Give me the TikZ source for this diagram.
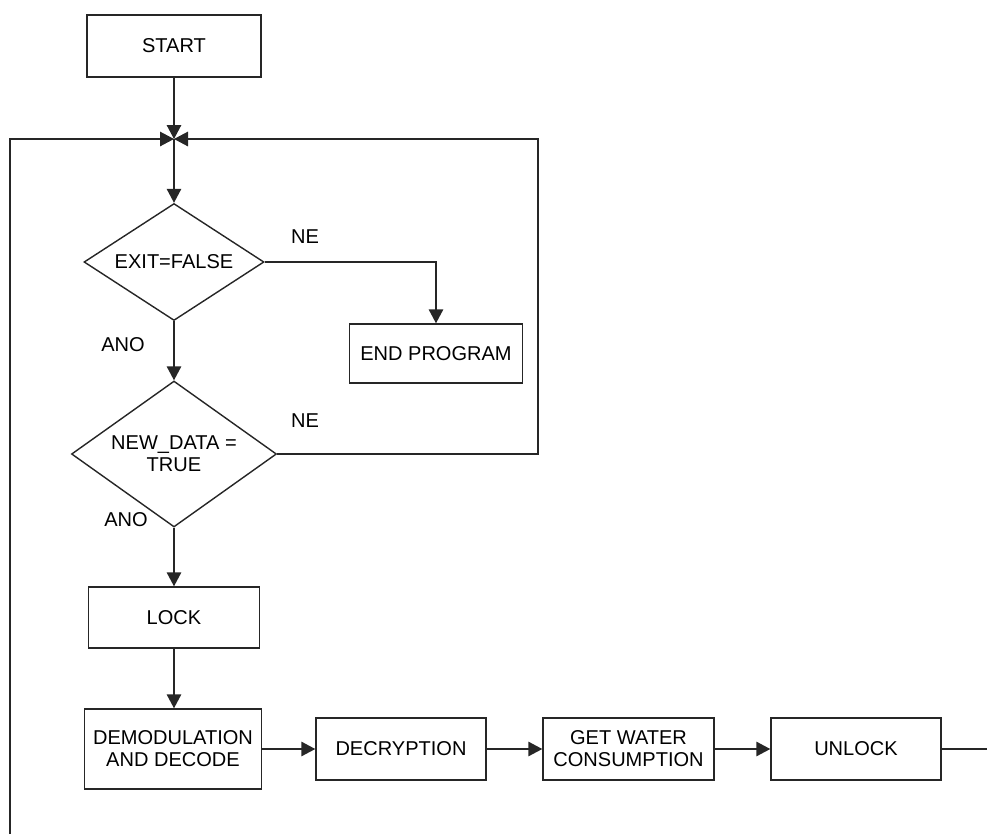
\documentclass[tikz,border=0pt]{standalone}
\usepackage{fontspec}
\setmainfont{Liberation Sans}
\usetikzlibrary{shapes.geometric,arrows.meta}

\tikzset{
    block/.style={draw=black!85, line width=0.8pt, rectangle, align=center, inner sep=0pt},
    test/.style={draw=black!85, line width=0.8pt, diamond, align=center, inner sep=0pt, shape aspect=1.5},
    line/.style={draw=black!85, line width=0.8pt},
    flow/.style={line, -{Triangle[length=0.28cm,width=0.29cm]}},
    tag/.style={inner sep=0pt}
}

\begin{document}
\begin{tikzpicture}[font=\fontsize{11.4}{12.6}\selectfont]
        \useasboundingbox (0,0) rectangle (19.74,-16.68);
        \node[block, minimum width=3.48cm, minimum height=1.24cm] (start) at (3.48,-0.92) {START};
        \coordinate (join) at (3.48,-2.78);
        \node[test, minimum width=3.6cm, minimum height=2.34cm] (exit) at (3.48,-5.24) {EXIT=FALSE};
        \node[block, minimum width=3.46cm, minimum height=1.18cm] (endprog) at (8.72,-7.07) {END PROGRAM};
        \node[test, minimum width=4.1cm, minimum height=2.92cm] (newdata) at (3.48,-9.08) {NEW\_DATA =\\TRUE};
        \node[block, minimum width=3.42cm, minimum height=1.22cm] (lock) at (3.48,-12.35) {LOCK};
        \node[block, minimum width=3.54cm, minimum height=1.6cm] (demod) at (3.46,-14.98) {DEMODULATION\\AND DECODE};
        \node[block, minimum width=3.4cm, minimum height=1.24cm] (decrypt) at (8.02,-14.98) {DECRYPTION};
        \node[block, minimum width=3.42cm, minimum height=1.24cm] (water) at (12.57,-14.98) {GET WATER\\CONSUMPTION};
        \node[block, minimum width=3.4cm, minimum height=1.24cm] (unlock) at (17.12,-14.98) {UNLOCK};
        \coordinate (loopout) at (19.74,-14.98);
        \coordinate (loopin) at (0.2,-16.68);

        % main column
        \draw[flow] (start) -- (join);
        \draw[flow] (join) -- (exit);
        \draw[flow] (exit) -- (newdata);
        \draw[flow] (newdata) -- (lock);
        \draw[flow] (lock) -- (lock |- demod.north);
        \draw[flow] (demod) -- (decrypt);
        \draw[flow] (decrypt) -- (water);
        \draw[flow] (water) -- (unlock);
        \draw[line] (unlock) -- (loopout);

        % branches back to the loop
        \draw[flow] (exit.east) -| (endprog.north);
        \draw[flow] (newdata.east) -- (10.76,-9.08) |- (join);
        \draw[flow] (loopin) |- (join);

        % answers
        \node[tag] (ne1) at (6.1,-4.74) {NE};
        \node[tag] (ne2) at (6.1,-8.42) {NE};
        \node[tag] (ano1) at (2.46,-6.9) {ANO};
        \node[tag] (ano2) at (2.52,-10.4) {ANO};
    \end{tikzpicture}
\end{document}
